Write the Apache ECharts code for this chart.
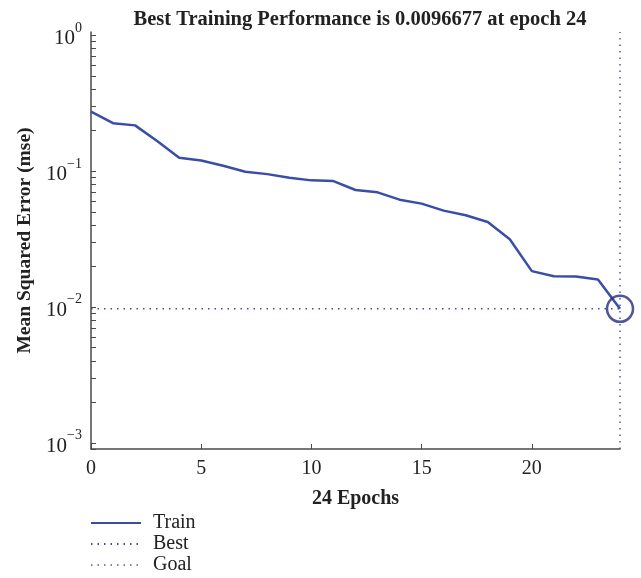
<!DOCTYPE html>
<html>
<head>
<meta charset="utf-8">
<script src="https://cdn.jsdelivr.net/npm/echarts@6/dist/echarts.min.js"></script>
<style>
html,body{margin:0;padding:0;background:#fff;}
#chart{width:641px;height:578px;}
</style>
</head>
<body>
<div id="chart"></div>
<script>
// ---- data ----
var epochs = [0,1,2,3,4,5,6,7,8,9,10,11,12,13,14,15,16,17,18,19,20,21,22,23,24];
var trainPerf = [0.273,0.224,0.216,0.166,0.125,0.119,0.109,0.0986,0.0946,0.0891,0.0851,0.0841,
                 0.0723,0.0695,0.0614,0.0574,0.0510,0.0471,0.0421,0.0314,0.0183,0.0168,0.0167,0.0159,0.0096677];
var bestEpoch = 24;
var bestPerf = 0.0096677;
var goalPerf = []; // goal = 0, not drawable on log scale
var xTickValues = [0, 5, 10, 15, 20];
var yTickValues = [0.001, 0.01, 0.1, 1];
var xRange = [0, 24];
var yRange = [0.0009, 1.05];
var titleText = 'Best Training Performance is 0.0096677 at epoch 24';
var xName = '24 Epochs';
var yName = 'Mean Squared Error (mse)';

// minor tick positions (1..9 x each decade)
var yMinorTicks = [];
for (var d = -4; d <= 0; d++) {
  for (var m = 1; m <= 9; m++) {
    var v = m * Math.pow(10, d);
    if (v >= yRange[0] && v <= yRange[1]) yMinorTicks.push(v);
  }
}

var serif = '"Liberation Serif","DejaVu Serif",serif';
var axisColor = '#4a4a4a';
var textColor = '#222';
var lineBlue = '#3a4ea6';
var dotBlue = '#4848a8';

var chart = echarts.init(document.getElementById('chart'), null, {renderer: 'canvas'});
chart.setOption({
  animation: false,
  backgroundColor: '#fff',
  title: {
    text: titleText,
    left: 355, top: 4, textAlign: 'center',
    textStyle: {fontFamily: serif, fontWeight: 'bold', fontSize: 20.5, color: textColor}
  },
  grid: {left: 91, right: 21, top: 32, bottom: 129, containLabel: false},
  legend: {
    orient: 'vertical', left: 90, top: 513, padding: 0,
    itemWidth: 50, itemHeight: 14, itemGap: 1, height: 80,
    itemStyle: {color: 'rgba(0,0,0,0)', borderWidth: 0, opacity: 0},
    textStyle: {fontFamily: serif, fontSize: 20, color: textColor, lineHeight: 20, padding: [0, 0, 0, 7]},
    data: ['Train', 'Best', 'Goal']
  },
  xAxis: {
    type: 'value', min: xRange[0], max: xRange[1],
    name: xName, nameLocation: 'middle', nameGap: 40,
    nameTextStyle: {fontFamily: serif, fontWeight: 'bold', fontSize: 20, color: textColor},
    axisLine: {show: true, onZero: false, lineStyle: {color: axisColor, width: 1.5}},
    axisTick: {show: true, inside: true, length: 5, customValues: xTickValues, lineStyle: {color: axisColor, width: 1}},
    axisLabel: {customValues: xTickValues, fontFamily: serif, fontSize: 20, color: textColor, margin: 10},
    splitLine: {show: false}
  },
  yAxis: {
    type: 'log', logBase: 10, min: yRange[0], max: yRange[1],
    name: yName, nameLocation: 'middle', nameGap: 53,
    nameTextStyle: {fontFamily: serif, fontWeight: 'bold', fontSize: 19.5, color: textColor},
    axisLine: {show: true, lineStyle: {color: axisColor, width: 1.5}},
    axisTick: {show: true, inside: true, length: 5, customValues: yMinorTicks, lineStyle: {color: axisColor, width: 1}},
    axisLabel: {
      customValues: yTickValues, margin: 9,
      formatter: function (v) {
        var e = Math.round(Math.log(v) / Math.LN10);
        var s = e < 0 ? '\u2212' + (-e) : String(e);
        return '{b|10}{s|' + s + '}';
      },
      rich: {
        b: {fontFamily: serif, fontSize: 21, color: textColor, lineHeight: 28, verticalAlign: 'bottom'},
        s: {fontFamily: serif, fontSize: 14, color: textColor, lineHeight: 28, verticalAlign: 'top'}
      }
    },
    splitLine: {show: false}
  },
  series: [
    {
      name: 'Train', type: 'line', symbol: 'none',
      data: epochs.map(function (e, i) { return [e, trainPerf[i]]; }),
      lineStyle: {color: lineBlue, width: 2.5}, itemStyle: {color: lineBlue}, z: 3
    },
    {
      name: 'Best', type: 'line', symbol: 'none',
      data: [[bestEpoch, yRange[0]], [bestEpoch, yRange[1]]],
      lineStyle: {color: dotBlue, width: 1.4, type: [1.5, 5]}, itemStyle: {color: dotBlue}, z: 2
    },
    {
      name: 'Best', type: 'line', symbol: 'none',
      data: [[xRange[0], bestPerf], [xRange[1], bestPerf]],
      lineStyle: {color: dotBlue, width: 1.4, type: [1.5, 5]}, itemStyle: {color: dotBlue}, z: 2
    },
    {
      name: 'Goal', type: 'line', symbol: 'none', data: goalPerf,
      lineStyle: {color: '#888', width: 1.3, type: [1.5, 5]}, itemStyle: {color: '#888'}
    },
    {
      name: 'BestMarker', type: 'scatter', symbol: 'circle', symbolSize: 26,
      data: [[bestEpoch, bestPerf]],
      itemStyle: {color: 'rgba(0,0,0,0)', borderColor: '#282a80', borderWidth: 2.5}, z: 4,
      silent: true
    }
  ]
});
</script>
</body>
</html>
